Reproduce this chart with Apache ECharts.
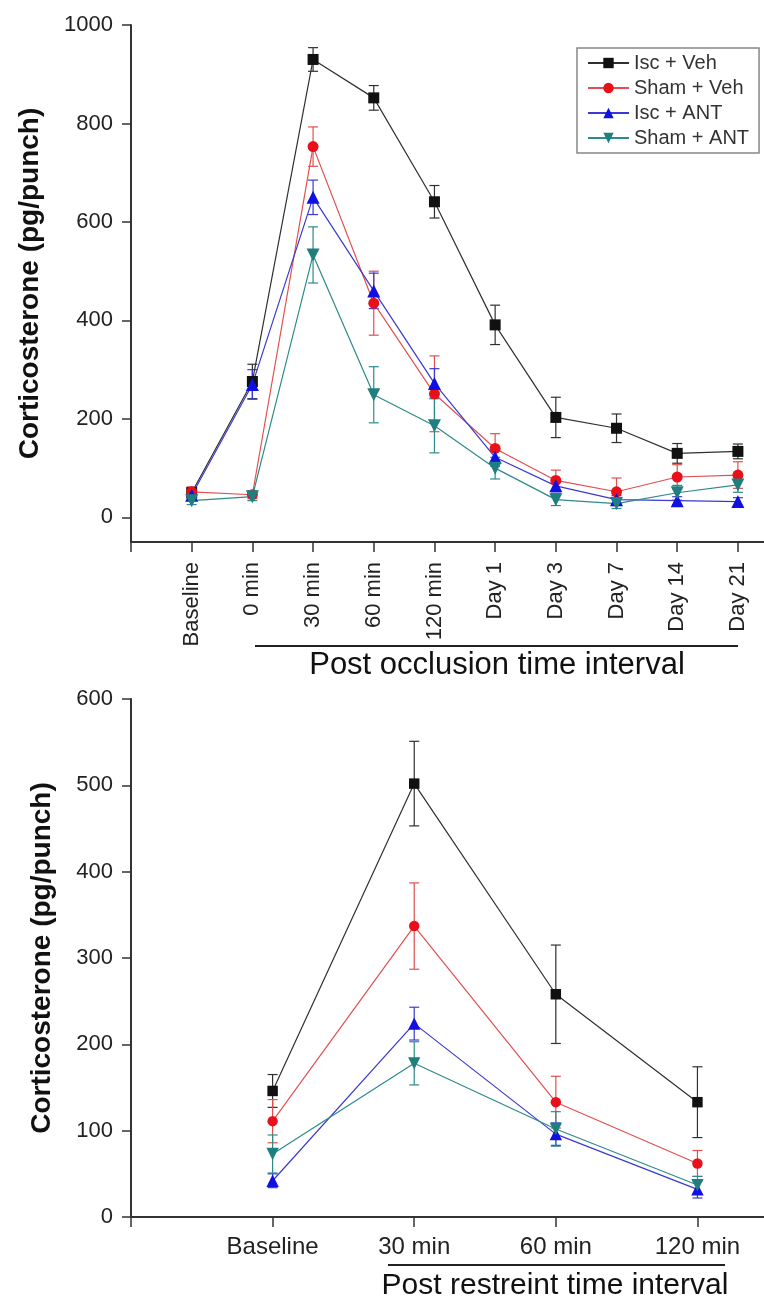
<!DOCTYPE html>
<html>
<head>
<meta charset="utf-8">
<title>Corticosterone</title>
<script src="https://cdn.jsdelivr.net/npm/echarts@6/dist/echarts.min.js"></script>
<style>
  html, body { margin: 0; padding: 0; background: #fff; }
  #chart { width: 764px; height: 1300px; }
</style>
</head>
<body>
<div id="chart"></div>
<script>
// categories
const occlusionTimes = ['Baseline', '0 min', '30 min', '60 min', '120 min', 'Day 1', 'Day 3', 'Day 7', 'Day 14', 'Day 21'];
const restraintTimes = ['Baseline', '30 min', '60 min', '120 min'];
const groupNames = ['Isc + Veh', 'Sham + Veh', 'Isc + ANT', 'Sham + ANT'];

// tick labels
const occTicks = [0, 200, 400, 600, 800, 1000];
const rstTicks = [0, 100, 200, 300, 400, 500, 600];

// post occlusion means (pg/punch)
const occIscVeh = [50, 276, 930, 852, 641, 391, 203, 181, 130, 134];
const occShamVeh = [52, 46, 753, 435, 251, 140, 75, 52, 82, 86];
const occIscAnt = [45, 270, 650, 460, 272, 122, 64, 36, 34, 32];
const occShamAnt = [34, 42, 533, 249, 186, 100, 36, 28, 50, 66];
// post occlusion SEM
const occIscVehErr = [10, 35, 24, 25, 33, 40, 41, 29, 20, 15];
const occShamVehErr = [10, 8, 40, 65, 77, 30, 21, 28, 25, 27];
const occIscAntErr = [8, 30, 35, 36, 30, 18, 12, 8, 8, 8];
const occShamAntErr = [8, 8, 57, 57, 55, 22, 12, 10, 15, 15];

// post restraint means
const rstIscVeh = [146, 502, 258, 133];
const rstShamVeh = [111, 337, 133, 62];
const rstIscAnt = [42, 224, 96, 32];
const rstShamAnt = [73, 178, 102, 37];
// post restraint SEM
const rstIscVehErr = [19, 49, 57, 41];
const rstShamVehErr = [25, 50, 30, 15];
const rstIscAntErr = [8, 19, 13, 10];
const rstShamAntErr = [22, 25, 20, 10];

const font = 'Liberation Sans, Arial, sans-serif';
const markColors = ['#111111', '#e8101a', '#1010e0', '#1f7f7f'];
const lineColors = ['#303030', '#e05050', '#3a3ad0', '#2f8a8a'];
const symbols = ['rect', 'circle', 'triangle', 'triangle'];
const symbolRotates = [0, 0, 0, 180];
const symbolSizes = [11, 11, 13, 13];

const occMeans = [occIscVeh, occShamVeh, occIscAnt, occShamAnt];
const occErrs = [occIscVehErr, occShamVehErr, occIscAntErr, occShamAntErr];
const rstMeans = [rstIscVeh, rstShamVeh, rstIscAnt, rstShamAnt];
const rstErrs = [rstIscVehErr, rstShamVehErr, rstIscAntErr, rstShamAntErr];

function errorBar(color) {
    return function (params, api) {
        let x = api.value(0), y = api.value(1), e = api.value(2);
        let top = api.coord([x, y + e]);
        let bot = api.coord([x, y - e]);
        let style = { stroke: color, lineWidth: 1.2 };
        return {
            type: 'group',
            children: [
                { type: 'line', shape: { x1: top[0], y1: top[1], x2: bot[0], y2: bot[1] }, style: style },
                { type: 'line', shape: { x1: top[0] - 5, y1: top[1], x2: top[0] + 5, y2: top[1] }, style: style },
                { type: 'line', shape: { x1: bot[0] - 5, y1: bot[1], x2: bot[0] + 5, y2: bot[1] }, style: style }
            ]
        };
    };
}

function buildSeries(means, errs, axisIndex, sizeScale) {
    let lines = [], bars = [];
    means.forEach(function (vals, g) {
        lines.push({
            name: groupNames[g],
            type: 'line',
            xAxisIndex: axisIndex,
            yAxisIndex: axisIndex,
            data: vals.map(function (v, i) { return [i, v]; }),
            symbol: symbols[g],
            symbolRotate: symbolRotates[g],
            symbolSize: symbolSizes[g] * sizeScale,
            itemStyle: { color: markColors[g] },
            lineStyle: { color: lineColors[g], width: 1.2 },
            z: 3
        });
        bars.push({
            name: groupNames[g],
            type: 'custom',
            xAxisIndex: axisIndex,
            yAxisIndex: axisIndex,
            renderItem: errorBar(lineColors[g]),
            encode: { x: 0, y: 1 },
            data: vals.map(function (v, i) { return [i, v, errs[g][i]]; }),
            z: 2
        });
    });
    return lines.concat(bars);
}

function yAxis(grid, min, max, ticks, gap) {
    return {
        type: 'value', gridIndex: grid, min: min, max: max,
        axisLine: { show: true, onZero: false, lineStyle: { color: '#333', width: 2 } },
        axisTick: { show: true, length: 9, customValues: ticks, lineStyle: { color: '#333', width: 1.5 } },
        axisLabel: {
            customValues: ticks,
            formatter: function (v) { return String(v); },
            fontSize: 22, margin: 18, color: '#222', fontFamily: font
        },
        splitLine: { show: false },
        name: 'Corticosterone (pg/punch)',
        nameLocation: 'middle',
        nameGap: gap,
        nameTextStyle: { fontSize: 28, fontWeight: 'bold', color: '#111', fontFamily: font }
    };
}

let chart = echarts.init(document.getElementById('chart'), null, { renderer: 'canvas' });

let option = {
    animation: false,
    backgroundColor: '#fff',
    legend: {
        data: groupNames,
        orient: 'vertical',
        left: 577,
        top: 48,
        padding: [5, 10, 5, 10],
        itemGap: 5,
        itemWidth: 41,
        itemHeight: 13,
        borderColor: '#888',
        borderWidth: 1.5,
        textStyle: { fontSize: 20, color: '#333', fontFamily: font }
    },
    grid: [
        { left: 131, top: 25, width: 633, height: 517 },
        { left: 131, top: 699, width: 633, height: 518 }
    ],
    xAxis: [
        {
            type: 'value', gridIndex: 0, min: -1, max: 9.43,
            axisLine: { onZero: false, lineStyle: { color: '#333', width: 2 } },
            axisTick: { length: 10, customValues: [-1, 0, 1, 2, 3, 4, 5, 6, 7, 8, 9], lineStyle: { color: '#333', width: 1.5 } },
            axisLabel: {
                customValues: [0, 1, 2, 3, 4, 5, 6, 7, 8, 9],
                formatter: function (v) { return occlusionTimes[v] || ''; },
                rotate: 90, margin: 20, fontSize: 22, color: '#222', fontFamily: font
            },
            splitLine: { show: false }
        },
        {
            type: 'value', gridIndex: 1, min: -1, max: 3.47,
            axisLine: { onZero: false, lineStyle: { color: '#333', width: 2 } },
            axisTick: { length: 10, customValues: [-1, 0, 1, 2, 3], lineStyle: { color: '#333', width: 1.5 } },
            axisLabel: {
                customValues: [0, 1, 2, 3],
                formatter: function (v) { return restraintTimes[v] || ''; },
                margin: 18, fontSize: 24, color: '#222', fontFamily: font
            },
            splitLine: { show: false }
        }
    ],
    yAxis: [
        yAxis(0, -50, 1000, occTicks, 87),
        yAxis(1, 0, 600, rstTicks, 75)
    ],
    graphic: [
        { type: 'line', shape: { x1: 255, y1: 646, x2: 738, y2: 646 }, style: { stroke: '#222', lineWidth: 2 } },
        { type: 'text', x: 497, y: 665, style: { text: 'Post occlusion time interval', fontSize: 31, fontFamily: font, fill: '#111', align: 'center', verticalAlign: 'middle' } },
        { type: 'line', shape: { x1: 388, y1: 1265, x2: 725, y2: 1265 }, style: { stroke: '#222', lineWidth: 2 } },
        { type: 'text', x: 555, y: 1286, style: { text: 'Post restreint time interval', fontSize: 30, fontFamily: font, fill: '#111', align: 'center', verticalAlign: 'middle' } }
    ],
    series: buildSeries(occMeans, occErrs, 0, 1).concat(buildSeries(rstMeans, rstErrs, 1, 0.95))
};

chart.setOption(option);
</script>
</body>
</html>
